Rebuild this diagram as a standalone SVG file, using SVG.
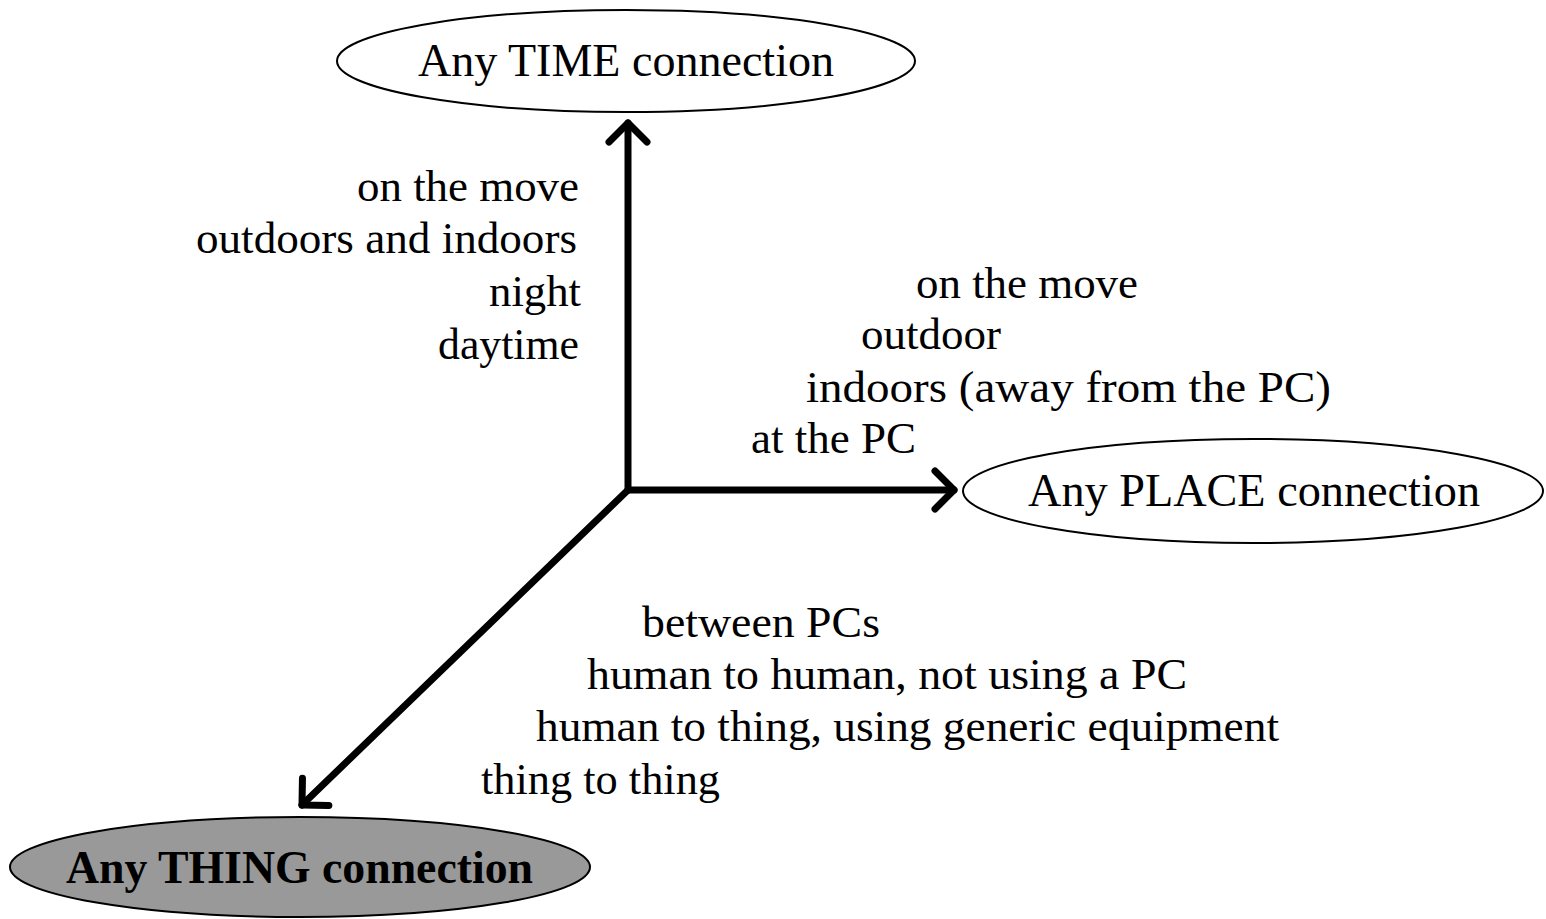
<svg xmlns="http://www.w3.org/2000/svg" width="1546" height="919" viewBox="0 0 1546 919">
<style>
  .node { stroke: #000; stroke-width: 2; }
  .white { fill: #fff; }
  .gray { fill: #999; }
  .t { font-family: "Liberation Serif", "Times New Roman", serif; fill: #000; }
  .nt { font-size: 46px; }
  .lb { font-size: 44px; }
  .axis { stroke: #000; stroke-width: 7; fill: none; stroke-linecap: round; }
</style>
<defs>
  <marker id="chev" markerUnits="userSpaceOnUse" markerWidth="60" markerHeight="60" refX="0" refY="0" orient="auto" overflow="visible" viewBox="-30 -30 60 60">
    <path d="M -19 -19 L 0 0 L -19 19" fill="none" stroke="#000" stroke-width="7" stroke-linecap="round" stroke-linejoin="round"/>
  </marker>
</defs>
<rect width="1546" height="919" fill="#fff"/>

<g id="connectors">
  <line class="axis" x1="628" y1="490" x2="628" y2="123" marker-end="url(#chev)"/>
  <line class="axis" x1="628" y1="490" x2="954" y2="490" marker-end="url(#chev)"/>
  <line class="axis" x1="628" y1="490" x2="302" y2="805" marker-end="url(#chev)"/>
</g>

<g id="node-time">
  <ellipse class="node white" cx="626" cy="61" rx="289" ry="51"/>
  <text class="t nt" x="418" y="76" textLength="416" lengthAdjust="spacingAndGlyphs">Any TIME connection</text>
</g>

<g id="node-place">
  <ellipse class="node white" cx="1253" cy="491" rx="290" ry="52"/>
  <text class="t nt" x="1028" y="506" textLength="452" lengthAdjust="spacingAndGlyphs">Any PLACE connection</text>
</g>

<g id="node-thing">
  <ellipse class="node gray" cx="300" cy="867" rx="290" ry="50"/>
  <text class="t nt" x="66" y="883" font-weight="bold" textLength="467" lengthAdjust="spacingAndGlyphs">Any THING connection</text>
</g>

<g id="labels-time">
  <text class="t lb" x="357" y="201" textLength="222" lengthAdjust="spacingAndGlyphs">on the move</text>
  <text class="t lb" x="196" y="253" textLength="381" lengthAdjust="spacingAndGlyphs">outdoors and indoors</text>
  <text class="t lb" x="489" y="306" textLength="92" lengthAdjust="spacingAndGlyphs">night</text>
  <text class="t lb" x="438" y="359" textLength="141" lengthAdjust="spacingAndGlyphs">daytime</text>
</g>

<g id="labels-place">
  <text class="t lb" x="916" y="298" textLength="222" lengthAdjust="spacingAndGlyphs">on the move</text>
  <text class="t lb" x="861" y="349" textLength="140" lengthAdjust="spacingAndGlyphs">outdoor</text>
  <text class="t lb" x="806" y="402" textLength="525" lengthAdjust="spacingAndGlyphs">indoors (away from the  PC)</text>
  <text class="t lb" x="751" y="453" textLength="165" lengthAdjust="spacingAndGlyphs">at the PC</text>
</g>

<g id="labels-thing">
  <text class="t lb" x="642" y="637" textLength="238" lengthAdjust="spacingAndGlyphs">between PCs</text>
  <text class="t lb" x="587" y="689" textLength="600" lengthAdjust="spacingAndGlyphs">human to human, not using a PC</text>
  <text class="t lb" x="536" y="741" textLength="743" lengthAdjust="spacingAndGlyphs">human to thing, using generic equipment</text>
  <text class="t lb" x="481" y="794" textLength="239" lengthAdjust="spacingAndGlyphs">thing to thing</text>
</g>
</svg>
